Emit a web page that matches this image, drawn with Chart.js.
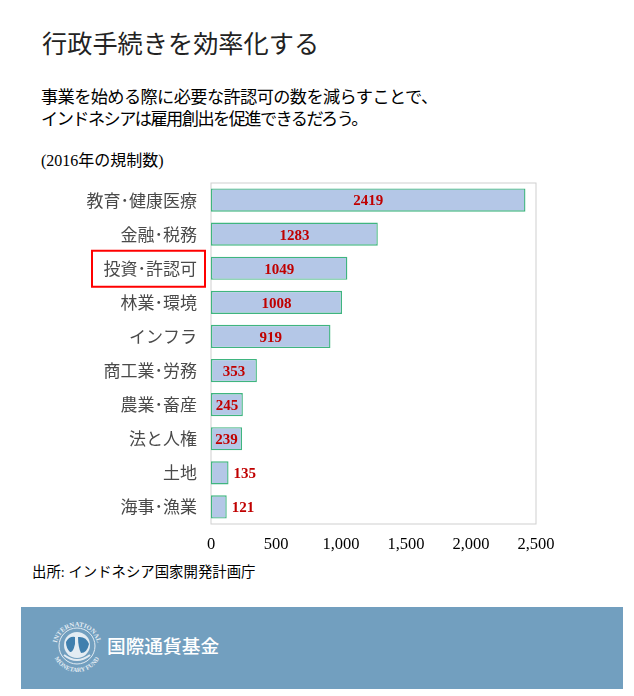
<!DOCTYPE html>
<html>
<head>
<meta charset="utf-8">
<script src="https://cdn.jsdelivr.net/npm/chart.js@4"></script>
<style>
  html, body { margin: 0; padding: 0; background: #fff; }
  body { width: 634px; height: 696px; position: relative; overflow: hidden;
         font-family: "Liberation Serif", "Noto Sans CJK JP", serif; color: #000; }
  .t { position: absolute; white-space: nowrap; }
  #title { left: 42px; top: 29px; font-size: 25.2px; line-height: 32px; color: #222; font-weight: 400; }
  #sub { left: 41px; top: 87px; font-size: 17.2px; line-height: 22px; font-weight: 400; }
  #sub .l1 { letter-spacing: -0.6px; }
  #sub .l2 { letter-spacing: -1.55px; }
  #unit { left: 41px; top: 151px; font-size: 16px; line-height: 20px; font-weight: 400; }
  #source { left: 32px; top: 563px; font-size: 14.4px; line-height: 18px; font-weight: 400; }
  #banner { position: absolute; left: 21px; top: 607px; width: 602px; height: 82px; background: #729fbf; }
  #bannerText { left: 107px; top: 632px; font-size: 18.7px; line-height: 26px; color: #fff; font-weight: 500;
                font-family: "Noto Sans CJK JP", sans-serif; }
  #logo { position: absolute; left: 51px; top: 620px; }
  canvas { position: absolute; left: 0; top: 0; }
</style>
</head>
<body>
<div id="banner"></div>
<svg id="logo" width="52" height="52" viewBox="0 0 52 52">
  <defs>
    <path id="arcTop" d="M5.5 27 A20.5 20.5 0 0 1 46.5 27"/>
    <path id="arcBottom" d="M1 27 A25 25 0 0 0 51 27"/>
  </defs>
  <text font-family="Liberation Serif" font-size="6.6" font-weight="700" fill="#e3ecf3"><textPath href="#arcTop" startOffset="50%" text-anchor="middle">INTERNATIONAL</textPath></text>
  <text font-family="Liberation Serif" font-size="6.2" font-weight="700" fill="#e3ecf3"><textPath href="#arcBottom" startOffset="50%" text-anchor="middle">MONETARY FUND</textPath></text>
  <circle cx="26" cy="26" r="18" fill="none" stroke="#e3ecf3" stroke-width="1"/>
  <circle cx="26" cy="25" r="13" fill="#e3ecf3"/>
  <path d="M15 22 Q18 16 24 17 L24 24 Q22 33 19 32 Q15 28 15 22 Z" fill="#3f7fae"/>
  <path d="M27 17 Q35 16 38 24 Q36 33 30 33 Q27 27 27 17 Z" fill="#3f7fae"/>
  <path d="M13 35 Q26 45 39 35" stroke="#e3ecf3" stroke-width="2" fill="none"/>
</svg>
<div class="t" id="title">行政手続きを効率化する</div>
<div class="t" id="sub"><span class="l1">事業を始める際に必要な許認可の数を減らすことで、</span><br><span class="l2">インドネシアは雇用創出を促進できるだろう。</span></div>
<div class="t" id="unit">(2016年の規制数)</div>
<div class="t" id="source">出所: インドネシア国家開発計画庁</div>
<div class="t" id="bannerText">国際通貨基金</div>
<canvas id="myChart" width="634" height="696"></canvas>
<script>
const categories = ['教育･健康医療', '金融･税務', '投資･許認可', '林業･環境', 'インフラ', '商工業･労務', '農業･畜産', '法と人権', '土地', '海事･漁業'];
const regulations = [2419, 1283, 1049, 1008, 919, 353, 245, 239, 135, 121];
const xTicks = [0, 500, 1000, 1500, 2000, 2500];
const highlighted = '投資･許認可';

// plot frame, value labels and the red box round the highlighted category
const annotations = {
  id: 'annotations',
  beforeDatasetsDraw(chart) {
    const { ctx, chartArea: a } = chart;
    ctx.save();
    ctx.strokeStyle = '#cfcfcf';
    ctx.lineWidth = 1;
    ctx.strokeRect(a.left, a.top, a.right - a.left, a.bottom - a.top);
    ctx.restore();
  },
  afterDatasetsDraw(chart) {
    const { ctx, scales } = chart;
    const bars = chart.getDatasetMeta(0).data;
    ctx.save();
    ctx.font = 'bold 15px "Liberation Serif"';
    ctx.fillStyle = '#c00000';
    ctx.textBaseline = 'middle';
    bars.forEach((bar, i) => {
      const inside = regulations[i] > 200;
      ctx.textAlign = inside ? 'center' : 'left';
      const x = inside ? (bar.x + bar.base) / 2 : bar.x + 5;
      ctx.fillText(regulations[i], x, bar.y + 1.5);
    });
    const y = scales.y.getPixelForValue(categories.indexOf(highlighted));
    ctx.strokeStyle = '#ff0000';
    ctx.lineWidth = 2;
    ctx.strokeRect(92, y - 17.5, 113, 36);
    ctx.restore();
  }
};

new Chart(document.getElementById('myChart'), {
  type: 'bar',
  plugins: [annotations],
  data: {
    labels: categories,
    datasets: [{
      data: regulations,
      backgroundColor: '#b4c7e7',
      borderColor: '#3fb57f',
      borderWidth: 1.4,
      borderSkipped: false,
      inflateAmount: 0,
      barPercentage: 0.68,
      categoryPercentage: 1
    }]
  },
  options: {
    indexAxis: 'y',
    responsive: false,
    animation: false,
    layout: { padding: { top: 183, right: 98, bottom: 0, left: 0 } },
    plugins: { legend: { display: false }, tooltip: { enabled: false } },
    scales: {
      x: {
        min: 0,
        max: 2500,
        afterFit: s => { s.height = 172; },
        afterBuildTicks: s => { s.ticks = xTicks.map(v => ({ value: v })); },
        grid: { display: false },
        border: { display: false },
        ticks: {
          padding: 3,
          maxRotation: 0,
          color: '#000',
          font: { family: '"Liberation Serif"', size: 16.5 },
          callback: v => v.toLocaleString('en-US')
        }
      },
      y: {
        afterFit: s => { s.width = 211; },
        grid: { display: false },
        border: { display: false },
        ticks: {
          padding: 6,
          color: '#4a4a4a',
          autoSkip: false,
          font: { family: '"Noto Sans CJK JP"', size: 17, weight: 400 }
        }
      }
    }
  }
});
</script>
</body>
</html>
